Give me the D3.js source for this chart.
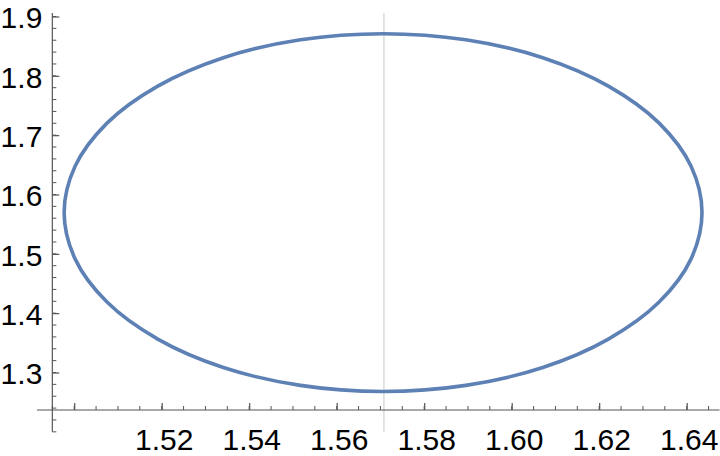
<!DOCTYPE html>
<meta charset="utf-8">
<style>
body { margin: 0; background: #fff; }
.tick text { font-family: "Liberation Sans", Arial, sans-serif; font-size: 30px; fill: #000; }
</style>
<html>
<body>
<svg id="chart" width="720" height="456"></svg>
</body>
</html>
<script src="https://cdnjs.cloudflare.com/ajax/libs/d3/7.8.5/d3.min.js"></script>
<script>
// points (x, y)
var curveX = [1.6435, 1.6410, 1.6337, 1.6221, 1.6071, 1.5895, 1.5706, 1.5517, 1.5341, 1.5191, 1.5075, 1.5002,
              1.4977, 1.5002, 1.5075, 1.5191, 1.5341, 1.5517, 1.5706, 1.5895, 1.6071, 1.6221, 1.6337, 1.6410];
var curveY = [1.5695, 1.6475, 1.7203, 1.7827, 1.8306, 1.8607, 1.8710, 1.8607, 1.8306, 1.7827, 1.7203, 1.6475,
              1.5695, 1.4915, 1.4187, 1.3563, 1.3084, 1.2783, 1.2680, 1.2783, 1.3084, 1.3563, 1.4187, 1.4915];
var gridX = 1.5708;   // vertical reference line

var xTicks = [1.50, 1.52, 1.54, 1.56, 1.58, 1.60, 1.62, 1.64];
var xLabels = ["", "1.52", "1.54", "1.56", "1.58", "1.60", "1.62", "1.64"];
var xMinor = d3.range(0, 31).map(function(i) { return +(1.495 + i * 0.005).toFixed(3); });
var yTicks = [1.3, 1.4, 1.5, 1.6, 1.7, 1.8, 1.9];
var yLabels = ["1.3", "1.4", "1.5", "1.6", "1.7", "1.8", "1.9"];
var yMinor = d3.range(0, 36).map(function(i) { return +(1.20 + i * 0.02).toFixed(2); });

var xMin = 1.4915, xMax = 1.6475, yMin = 1.2, yMax = 1.906;
var xCross = 1.4950, yCross = 1.2368;

var svg = d3.select("#chart");

var x = d3.scaleLinear().domain([1.50, 1.64]).range([74.2, 686.7]);
var y = d3.scaleLinear().domain([1.3, 1.9]).range([372.5, 16.5]);

var axisColor = "#555";

// reference line
svg.append("line")
  .attr("x1", x(gridX)).attr("x2", x(gridX))
  .attr("y1", y(yMax)).attr("y2", y(yMin))
  .attr("stroke", "#c8c8c8").attr("stroke-width", 1);

// x axis
var xAxis = svg.append("g").attr("transform", "translate(0," + y(yCross) + ")");
xAxis.append("line")
  .attr("x1", x(xMin)).attr("x2", x(xMax))
  .attr("stroke", axisColor).attr("stroke-width", 1.2);
xAxis.selectAll(".minor").data(xMinor).enter().append("line")
  .attr("x1", function(d) { return x(d); }).attr("x2", function(d) { return x(d); })
  .attr("y1", 0).attr("y2", -4)
  .attr("stroke", axisColor).attr("stroke-width", 1);
xAxis.call(d3.axisBottom(x).tickValues(xTicks).tickSize(-7).tickPadding(40)
  .tickFormat(function(d, i) { return xLabels[i]; }));
xAxis.select(".domain").remove();
xAxis.selectAll(".tick line").attr("stroke", axisColor).attr("stroke-width", 1.2);
xAxis.selectAll(".tick text").attr("dy", 0).attr("dx", 2);

// y axis
var yAxis = svg.append("g").attr("transform", "translate(" + x(xCross) + ",0)");
yAxis.append("line")
  .attr("y1", y(yMax)).attr("y2", y(yMin))
  .attr("stroke", axisColor).attr("stroke-width", 1.2);
yAxis.selectAll(".minor").data(yMinor).enter().append("line")
  .attr("y1", function(d) { return y(d); }).attr("y2", function(d) { return y(d); })
  .attr("x1", 0).attr("x2", 4)
  .attr("stroke", axisColor).attr("stroke-width", 1);
yAxis.call(d3.axisLeft(y).tickValues(yTicks).tickSize(-7).tickPadding(10)
  .tickFormat(function(d, i) { return yLabels[i]; }));
yAxis.select(".domain").remove();
yAxis.selectAll(".tick line").attr("stroke", axisColor).attr("stroke-width", 1.2);
yAxis.selectAll(".tick text").attr("dy", "0.38em");

// the curve
var pts = curveX.map(function(d, i) { return [d, curveY[i]]; });
var line = d3.line()
  .x(function(d) { return x(d[0]); })
  .y(function(d) { return y(d[1]); })
  .curve(d3.curveCatmullRomClosed.alpha(0.5));

svg.append("path")
  .datum(pts)
  .attr("d", line)
  .attr("fill", "none")
  .attr("stroke", "#5e81b5")
  .attr("stroke-width", 3.6);
</script>
